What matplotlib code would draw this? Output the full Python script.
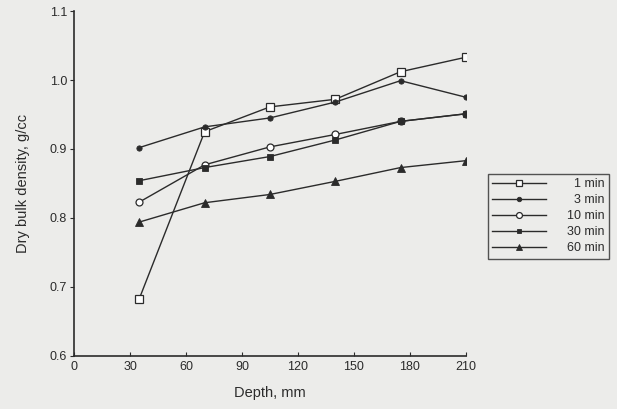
import matplotlib
matplotlib.use("Agg")
import matplotlib.pyplot as plt

plt.rcParams['font.family'] = ['Liberation Sans', 'DejaVu Sans']

depth = [35, 70, 105, 140, 175, 210]
series_labels = ["1 min", "3 min", "10 min", "30 min", "60 min"]
density_1min = [0.683, 0.925, 0.961, 0.972, 1.012, 1.033]
density_3min = [0.902, 0.932, 0.945, 0.968, 0.999, 0.975]
density_10min = [0.823, 0.877, 0.903, 0.921, 0.940, 0.951]
density_30min = [0.854, 0.873, 0.889, 0.913, 0.940, 0.951]
density_60min = [0.794, 0.822, 0.834, 0.853, 0.873, 0.883]
x_ticks = [0, 30, 60, 90, 120, 150, 180, 210]
y_ticks = [0.6, 0.7, 0.8, 0.9, 1.0, 1.1]

bg = '#ececea'
ink = '#2b2b2b'

fig = plt.figure(figsize=(6.17, 4.09), dpi=100, facecolor=bg)
ax = fig.add_axes([0.12, 0.13, 0.635, 0.843], facecolor=bg)

styles = [
    dict(marker='s', markersize=5.2, markerfacecolor='white', markeredgewidth=0.9, zorder=3),
    dict(marker='o', markersize=3.8, markerfacecolor=ink, markeredgewidth=0.6, zorder=3),
    dict(marker='o', markersize=5.0, markerfacecolor='white', markeredgewidth=0.9, zorder=2),
    dict(marker='s', markersize=4.2, markerfacecolor=ink, markeredgewidth=0.6, zorder=4),
    dict(marker='^', markersize=5.2, markerfacecolor=ink, markeredgewidth=0.6, zorder=3),
]
all_series = [density_1min, density_3min, density_10min, density_30min, density_60min]

# pad single-digit labels so the legend text lines up on the right
legend_labels = [("  " + s) if len(s.split()[0]) == 1 else s for s in series_labels]

for vals, lab, st in zip(all_series, legend_labels, styles):
    ax.plot(depth, vals, color=ink, linewidth=1.0, markeredgecolor=ink,
            label=lab, **st)

ax.set_xlim(0, 210)
ax.set_ylim(0.6, 1.1)
ax.set_xticks(x_ticks)
ax.set_yticks(y_ticks)
ax.set_xticklabels([str(t) for t in x_ticks])
ax.set_yticklabels([f"{t:.1f}" for t in y_ticks])

for s in ['top', 'right']:
    ax.spines[s].set_visible(False)
for s in ['left', 'bottom']:
    ax.spines[s].set_color(ink)
    ax.spines[s].set_linewidth(1.2)

ax.tick_params(axis='x', direction='in', length=3, colors=ink, labelsize=9, pad=4)
ax.tick_params(axis='y', direction='out', length=3, colors=ink, labelsize=9, pad=2)

ax.set_xlabel("Depth, mm", fontsize=10.5, color=ink, labelpad=9)
ax.set_ylabel("Dry bulk density, g/cc", fontsize=10.5, color=ink, labelpad=14)

leg = ax.legend(loc='upper left', bbox_to_anchor=(0.791, 0.575),
                bbox_transform=fig.transFigure, frameon=True, fancybox=False,
                handlelength=4.3, handletextpad=1.7, fontsize=9,
                labelspacing=0.32, borderpad=0.35, borderaxespad=0,
                markerscale=0.85)
leg.get_frame().set_edgecolor(ink)
leg.get_frame().set_linewidth(1.0)
leg.get_frame().set_facecolor(bg)
for t in leg.get_texts():
    t.set_color(ink)

fig.savefig("out.png", dpi=100, facecolor=bg)
